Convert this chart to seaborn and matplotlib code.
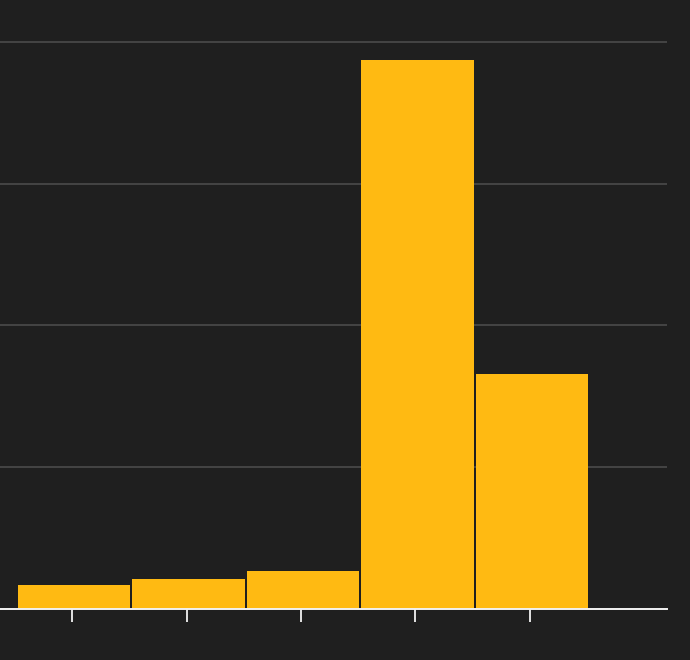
import matplotlib
matplotlib.use("Agg")
import matplotlib.pyplot as plt
import seaborn as sns

# valores (sem rótulos visíveis)
categorias = ["A", "B", "C", "D", "E"]
valores = [1.66, 2.06, 2.63, 38.76, 16.57]
y_ticks = [0, 10, 20, 30, 40]

bg = "#1f1f1f"
amarelo = "#ffba12"

sns.set_theme(style="dark", rc={
    "axes.facecolor": bg,
    "figure.facecolor": bg,
})

fig = plt.figure(figsize=(6.9, 6.6), dpi=100)
ax = fig.add_axes([0.0, 0.078, 0.9667, 0.892])

sns.barplot(x=categorias, y=valores, color=amarelo, width=0.985,
            saturation=1, edgecolor="none", linewidth=0, ax=ax, zorder=3)

# barras levemente deslocadas para a direita em relação aos ticks
for p in ax.patches:
    p.set_x(p.get_x() + 0.017)

ax.set_xlim(-0.629, 5.197)
ax.set_ylim(0, 41.6)
ax.set_yticks(y_ticks)
ax.set_yticklabels([])
ax.set_xticks(range(len(categorias)))
ax.set_xticklabels([])
ax.set_xlabel("")
ax.set_ylabel("")

ax.grid(axis="y", color="#474747", linewidth=1.3, zorder=0)
ax.grid(axis="x", visible=False)
ax.set_axisbelow(True)

for s in ["top", "right", "left"]:
    ax.spines[s].set_visible(False)
ax.spines["bottom"].set_color("#f2f2f2")
ax.spines["bottom"].set_linewidth(1.4)
ax.spines["bottom"].set_zorder(4)

ax.tick_params(axis="x", bottom=True, length=9.5, width=1.3, color="#f2f2f2", direction="out")
ax.tick_params(axis="y", left=False, length=0)

fig.savefig("out.png", dpi=100, facecolor=bg)
